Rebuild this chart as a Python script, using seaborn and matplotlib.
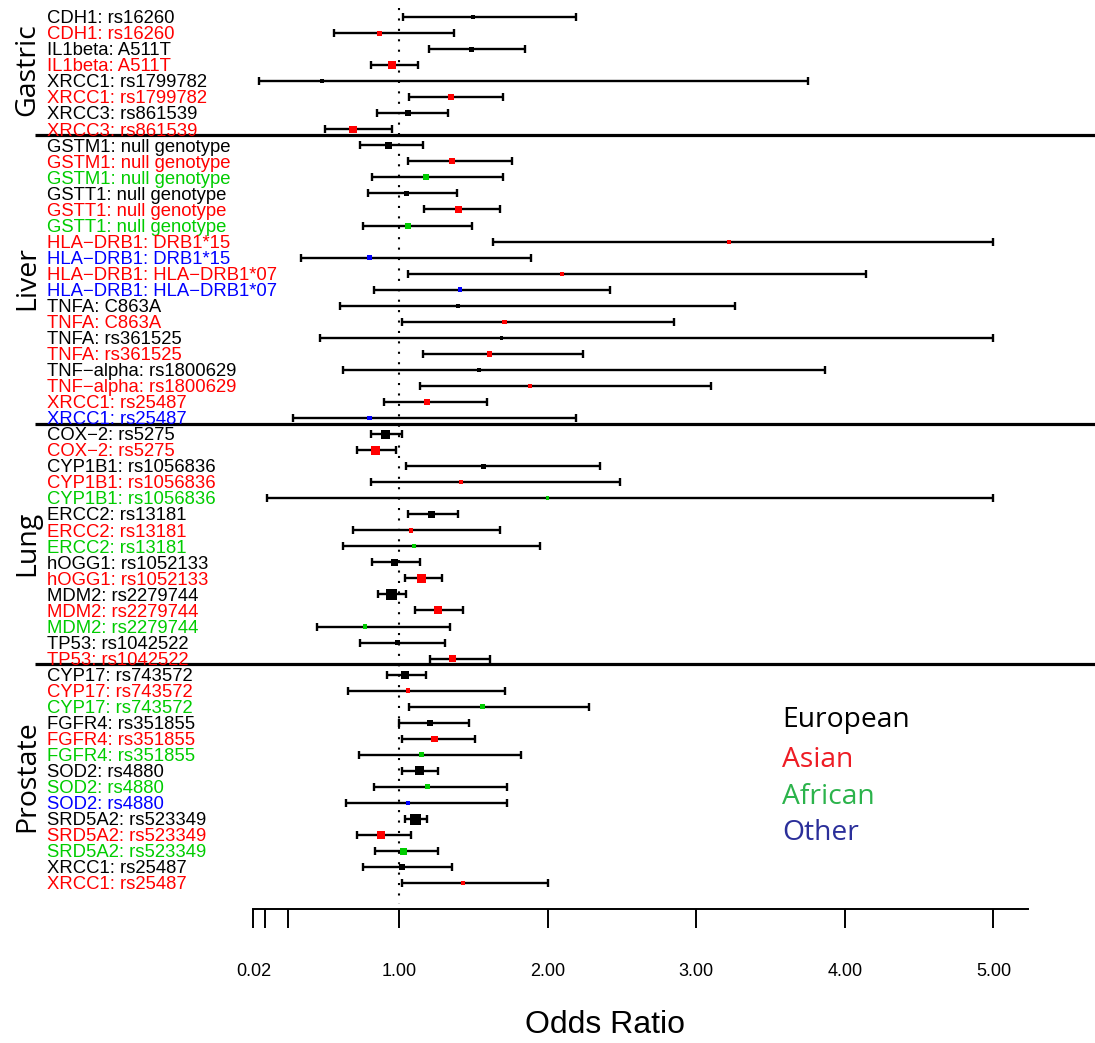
import numpy as np
import pandas as pd
import matplotlib
matplotlib.use("Agg")
import matplotlib.pyplot as plt
import seaborn as sns

# ---------------- data ----------------
group_names = ["Gastric", "Liver", "Lung", "Prostate"]
group_sizes = [8, 18, 15, 14]

labels = [
    "CDH1: rs16260", "CDH1: rs16260", "IL1beta: A511T", "IL1beta: A511T",
    "XRCC1: rs1799782", "XRCC1: rs1799782", "XRCC3: rs861539", "XRCC3: rs861539",
    "GSTM1: null genotype", "GSTM1: null genotype", "GSTM1: null genotype",
    "GSTT1: null genotype", "GSTT1: null genotype", "GSTT1: null genotype",
    "HLA\u2212DRB1: DRB1*15", "HLA\u2212DRB1: DRB1*15",
    "HLA\u2212DRB1: HLA\u2212DRB1*07", "HLA\u2212DRB1: HLA\u2212DRB1*07",
    "TNFA: C863A", "TNFA: C863A", "TNFA: rs361525", "TNFA: rs361525",
    "TNF\u2212alpha: rs1800629", "TNF\u2212alpha: rs1800629",
    "XRCC1: rs25487", "XRCC1: rs25487",
    "COX\u22122: rs5275", "COX\u22122: rs5275",
    "CYP1B1: rs1056836", "CYP1B1: rs1056836", "CYP1B1: rs1056836",
    "ERCC2: rs13181", "ERCC2: rs13181", "ERCC2: rs13181",
    "hOGG1: rs1052133", "hOGG1: rs1052133",
    "MDM2: rs2279744", "MDM2: rs2279744", "MDM2: rs2279744",
    "TP53: rs1042522", "TP53: rs1042522",
    "CYP17: rs743572", "CYP17: rs743572", "CYP17: rs743572",
    "FGFR4: rs351855", "FGFR4: rs351855", "FGFR4: rs351855",
    "SOD2: rs4880", "SOD2: rs4880", "SOD2: rs4880",
    "SRD5A2: rs523349", "SRD5A2: rs523349", "SRD5A2: rs523349",
    "XRCC1: rs25487", "XRCC1: rs25487",
]

E, A, F, O = "European", "Asian", "African", "Other"
ancestry = [
    E, A, E, A, E, A, E, A,
    E, A, F, E, A, F, A, O, A, O, E, A, E, A, E, A, A, O,
    E, A, E, A, F, E, A, F, E, A, E, A, F, E, A,
    E, A, F, E, A, F, E, F, O, E, A, F, E, A,
]

odds = [
    1.50, 0.87, 1.49, 0.95, 0.48, 1.35, 1.06, 0.69,
    0.93, 1.36, 1.18, 1.05, 1.40, 1.06, 3.22, 0.80, 2.10, 1.41,
    1.40, 1.71, 1.69, 1.61, 1.54, 1.88, 1.19, 0.80,
    0.91, 0.84, 1.57, 1.42, 2.00, 1.22, 1.08, 1.10, 0.97, 1.15,
    0.95, 1.26, 0.77, 0.99, 1.36,
    1.04, 1.06, 1.56, 1.21, 1.24, 1.15, 1.14, 1.19, 1.06,
    1.11, 0.88, 1.03, 1.02, 1.43,
]
lower = [
    1.03, 0.56, 1.20, 0.81, 0.06, 1.07, 0.85, 0.50,
    0.74, 1.06, 0.82, 0.79, 1.17, 0.76, 1.63, 0.34, 1.06, 0.83,
    0.60, 1.02, 0.47, 1.16, 0.62, 1.14, 0.90, 0.29,
    0.81, 0.72, 1.05, 0.81, 0.11, 1.06, 0.69, 0.62, 0.82, 1.04,
    0.86, 1.11, 0.45, 0.74, 1.21,
    0.92, 0.66, 1.07, 1.00, 1.02, 0.73, 1.02, 0.83, 0.64,
    1.04, 0.72, 0.84, 0.76, 1.02,
]
upper = [
    2.19, 1.37, 1.85, 1.13, 3.75, 1.70, 1.33, 0.95,
    1.16, 1.76, 1.70, 1.39, 1.68, 1.49, 5.00, 1.89, 4.14, 2.42,
    3.26, 2.85, 5.00, 2.24, 3.87, 3.10, 1.59, 2.19,
    1.02, 0.98, 2.35, 2.49, 5.00, 1.40, 1.68, 1.95, 1.14, 1.29,
    1.05, 1.43, 1.34, 1.31, 1.61,
    1.18, 1.71, 2.28, 1.47, 1.51, 1.82, 1.26, 1.73, 1.73,
    1.19, 1.08, 1.26, 1.36, 2.00,
]
# study weight shown as square size (pixels)
weight = [
    4, 5, 5, 8, 4, 6, 6.5, 7.5,
    7, 6, 6, 5, 7, 6, 4, 4.5, 4, 4.5, 4, 4.5, 3.5, 5.5, 4, 4, 6, 4.5,
    9, 9, 5, 4, 3.5, 7, 4.5, 4, 7, 9, 11, 8, 4.5, 5.5, 7,
    8, 4.5, 5, 6, 6.5, 5, 9, 5, 4.5, 11, 7.5, 7, 5.5, 4.5,
]

legend_names = ["European", "Asian", "African", "Other"]
tick_values = [0.02, 0.1, 0.25, 1, 2, 3, 4, 5]
tick_labels = ["0.02", "", "", "1.00", "2.00", "3.00", "4.00", "5.00"]

mark_colors = {E: "#000000", A: "#FF0000", F: "#00CC00", O: "#0000FF"}
legend_colors = {E: "#000000", A: "#EE1C24", F: "#2BB34B", O: "#2B2F9A"}

df = pd.DataFrame({"label": labels, "ancestry": ancestry, "odds": odds,
                   "lower": lower, "upper": upper, "weight": weight})
df["row"] = np.arange(len(df))

# ---------------- figure ----------------
sns.set_style("white")
plt.rcParams["font.family"] = ["Liberation Sans", "DejaVu Sans"]
plt.rcParams["text.color"] = "black"
plt.rcParams["axes.labelcolor"] = "black"
plt.rcParams["xtick.color"] = "black"
plt.rcParams["xtick.labelcolor"] = "black"

W, H = 1095, 1043
fig = plt.figure(figsize=(W / 100, H / 100), dpi=100)
ax_bottom_px = 909.3
ax = fig.add_axes([0, (H - ax_bottom_px) / H, 1, ax_bottom_px / H])

px_per_unit = 148.6
x_zero_px = 250.4
row0_px, row_step = 17.0, 16.04
ax.set_xlim(-x_zero_px / px_per_unit, (W - x_zero_px) / px_per_unit)
ax.set_ylim((ax_bottom_px - row0_px) / row_step, -row0_px / row_step)

def px2x(p):
    return (p - x_zero_px) / px_per_unit

# confidence intervals
ax.errorbar(df["odds"], df["row"],
            xerr=[df["odds"] - df["lower"], df["upper"] - df["odds"]],
            fmt="none", ecolor="black", elinewidth=1.7, capsize=2.9,
            capthick=1.7, zorder=2)

# point estimates
size_map = {w: (w * 0.72) ** 2 for w in sorted(set(weight))}
sns.scatterplot(data=df, x="odds", y="row", hue="ancestry", palette=mark_colors,
                size="weight", sizes=size_map, marker="s", linewidth=0,
                legend=False, ax=ax, zorder=3)

# reference line at OR = 1
ax.plot([1, 1], [-0.56, 55.3], color="black", lw=1.5,
        linestyle=(0, (1, 4)), zorder=1)

# row labels
for r, (lab, anc) in enumerate(zip(labels, ancestry)):
    ax.text(px2x(47), r + 0.39, lab, color=mark_colors[anc], fontsize=13.3,
            ha="left", va="baseline")

# group separators and group names
start = 0
for gi, (gname, gsize) in enumerate(zip(group_names, group_sizes)):
    end = start + gsize - 1
    if gi < len(group_names) - 1:
        ax.plot([px2x(35), px2x(W)], [end + 0.35, end + 0.35],
                color="black", lw=2.3, solid_capstyle="butt")
    ax.text(px2x(34), (start + end) / 2 - 0.2, gname, rotation=90,
            rotation_mode="anchor", ha="center", va="baseline",
            fontsize=20.5, family=["Open Sans", "DejaVu Sans"])
    start = end + 1

# legend as coloured text
leg_rows = [43.8, 46.3, 48.6, 50.9]
for name, yr in zip(legend_names, leg_rows):
    ax.text(px2x(782), yr, name, color=legend_colors[name], fontsize=20.3,
            ha="left", va="center", family=["Open Sans", "DejaVu Sans"])

# x axis
for s in ["top", "left", "right"]:
    ax.spines[s].set_visible(False)
ax.spines["bottom"].set_linewidth(1.4)
ax.spines["bottom"].set_color("black")
ax.spines["bottom"].set_bounds(0.02, px2x(1027.7))
ax.set_xticks(tick_values)
ax.set_xticklabels(tick_labels)
ax.tick_params(axis="x", direction="out", length=14, width=1.4, pad=24.7,
               labelsize=13, bottom=True, colors="black")
ax.set_yticks([])
ax.set_ylabel("")
ax.set_xlabel("Odds Ratio", fontsize=23, color="black")
ax.xaxis.set_label_coords(605 / W, (ax_bottom_px - 1025) / ax_bottom_px)
ax.xaxis.label.set_verticalalignment("center")
ax.patch.set_alpha(0)

fig.savefig("out.png", dpi=100)
